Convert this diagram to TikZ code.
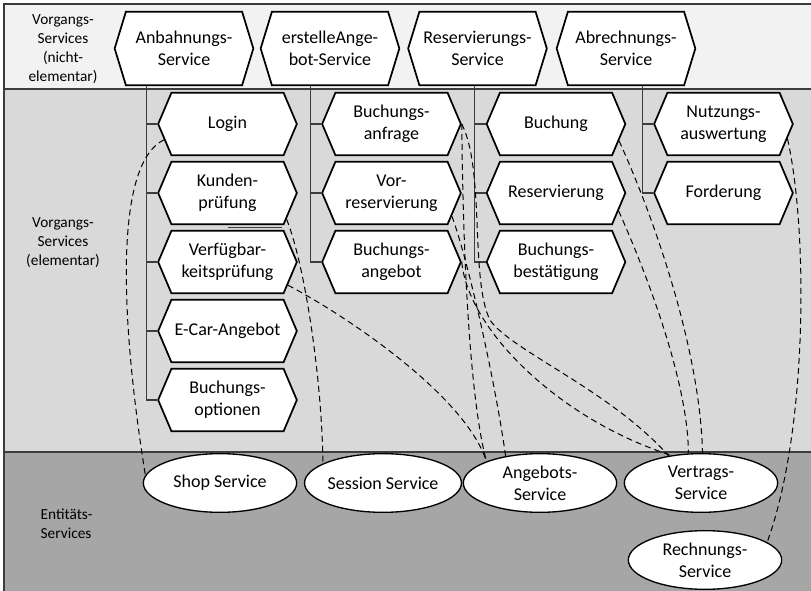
\documentclass[tikz,border=0pt]{standalone}
\usepackage{fontspec}
\setmainfont{Carlito}
\usetikzlibrary{shapes.symbols,shapes.geometric}
\definecolor{TopClr}{RGB}{242,242,242}
\definecolor{MidClr}{RGB}{217,217,217}
\definecolor{LowClr}{RGB}{166,166,166}
\definecolor{LineClr}{RGB}{60,60,60}

\begin{document}
\begin{tikzpicture}[x=0.75pt,y=-0.75pt,
  hex/.style={signal,signal to=west and east,signal pointer angle=134,draw=black,line width=1.3pt,
    fill=white,minimum width=104pt,minimum height=47pt,inner sep=1pt,align=center,
    font=\fontsize{13.5}{16.5}\selectfont},
  tophex/.style={hex,minimum height=55pt,signal pointer angle=146},
  ent/.style={ellipse,draw=black,line width=1pt,fill=white,minimum width=115pt,
    minimum height=44pt,inner sep=0pt,align=center,font=\fontsize{13.5}{16.5}\selectfont},
  lane/.style={align=center,font=\fontsize{11.5}{14.2}\selectfont},
  tree/.style={draw=LineClr,line width=0.8pt},
  link/.style={draw=black,line width=0.75pt,dash pattern=on 4.5pt off 3pt}]
\useasboundingbox (0,0) rectangle (811,591);

\fill[TopClr] (4,4) rectangle (811,89);
\fill[MidClr] (4,89) rectangle (811,452);
\fill[LowClr] (4,452) rectangle (811,591);
\draw[LineClr,line width=1.5pt] (811,4) -- (4,4) -- (4,591);
\draw[LineClr,line width=1.5pt] (4,89) -- (811,89);
\draw[LineClr,line width=1.1pt] (4,452) -- (811,452);

\node[lane] (lanetop) at (63,49) {Vorgangs-\\Services\\(nicht-\\elementar)};
\node[lane] (lanemid) at (63,243) {Vorgangs-\\Services\\(elementar)};
\node[lane,align=left,anchor=west] (lanelow) at (36,524) {Entitäts-\\Services};

\node[tophex] (anb) at (184,48.5) {Anbahnungs-\\Service};
\node[tophex] (erst) at (330,48.5) {erstelleAnge-\\bot-Service};
\node[tophex] (res) at (477.5,48.5) {Reservierungs-\\Service};
\node[tophex] (abr) at (626,48.5) {Abrechnungs-\\Service};

\node[hex] (login) at (227.5,124) {Login};
\node[hex] (kunden) at (227.5,193) {Kunden-\\prüfung};
\node[hex] (verfueg) at (227.5,262) {Verfügbar-\\keitsprüfung};
\node[hex] (ecar) at (227.5,331) {E-Car-Angebot};
\node[hex] (optionen) at (227.5,400) {Buchungs-\\optionen};

\node[hex] (banfrage) at (391.5,124) {Buchungs-\\anfrage};
\node[hex] (vorres) at (391.5,193) {Vor-\\reservierung};
\node[hex] (bangebot) at (391.5,262) {Buchungs-\\angebot};

\node[hex] (buchung) at (556,124) {Buchung};
\node[hex] (reserv) at (556,193) {Reservierung};
\node[hex] (bbest) at (556,262) {Buchungs-\\bestätigung};

\node[hex] (nutzung) at (723.5,124) {Nutzungs-\\auswertung};
\node[hex] (forderung) at (723.5,193) {Forderung};

\node[ent] (shop) at (220,483) {Shop Service};
\node[ent] (session) at (383,483) {Session Service};
\node[ent] (angebot) at (540,483) {Angebots-\\Service};
\node[ent] (vertrag) at (701,483) {Vertrags-\\Service};
\node[ent] (rechnung) at (705,560) {Rechnungs-\\Service};

\coordinate (stemA) at ([xshift=-8.25pt]login.west);
\coordinate (stemB) at ([xshift=-8.25pt]banfrage.west);
\coordinate (stemC) at ([xshift=-8.25pt]buchung.west);
\coordinate (stemD) at ([xshift=-8.25pt]nutzung.west);
\draw[tree] (anb.south -| stemA) |- (optionen.west);
\draw[tree] (erst.south -| stemB) |- (bangebot.west);
\draw[tree] (res.south -| stemC) |- (bbest.west);
\draw[tree] (abr.south -| stemD) |- (forderung.west);
\foreach \n in {login,kunden,verfueg,ecar} \draw[tree] (stemA |- \n.west) -- (\n.west);
\foreach \n in {banfrage,vorres} \draw[tree] (stemB |- \n.west) -- (\n.west);
\foreach \n in {buchung,reserv} \draw[tree] (stemC |- \n.west) -- (\n.west);
\draw[tree] (stemD) -- (nutzung.west);
\draw[tree,line width=0.5pt] ([yshift=-1.5pt]kunden.south) -- ++(41pt,0);

\draw[link] (login.194) .. controls (112,165) and (122,330) .. (shop.174);
\draw[link] (kunden.336) .. controls (305,265) and (322,380) .. (session.162);
\draw[link] (verfueg.339) .. controls (345,315) and (465,395) .. (angebot.158);
\draw[link] (banfrage.east) .. controls (463,260) and (470,400) .. (angebot.158);
\draw[link] (vorres.339) .. controls (468,260) and (495,380) .. (angebot.142);
\draw[link] (banfrage.east) .. controls (485,170) and (470,280) .. (490,320)
  .. controls (510,350) and (610,390) .. (vertrag.140);
\draw[link] (bangebot.east) .. controls (468,330) and (560,420) .. (vertrag.137);
\draw[link] (buchung.345) .. controls (655,220) and (700,350) .. (vertrag.87);
\draw[link] (reserv.344) .. controls (645,270) and (688,380) .. (vertrag.113);
\draw[link] (nutzung.347) .. controls (808,230) and (808,430) .. (rechnung.16);
\end{tikzpicture}
\end{document}
